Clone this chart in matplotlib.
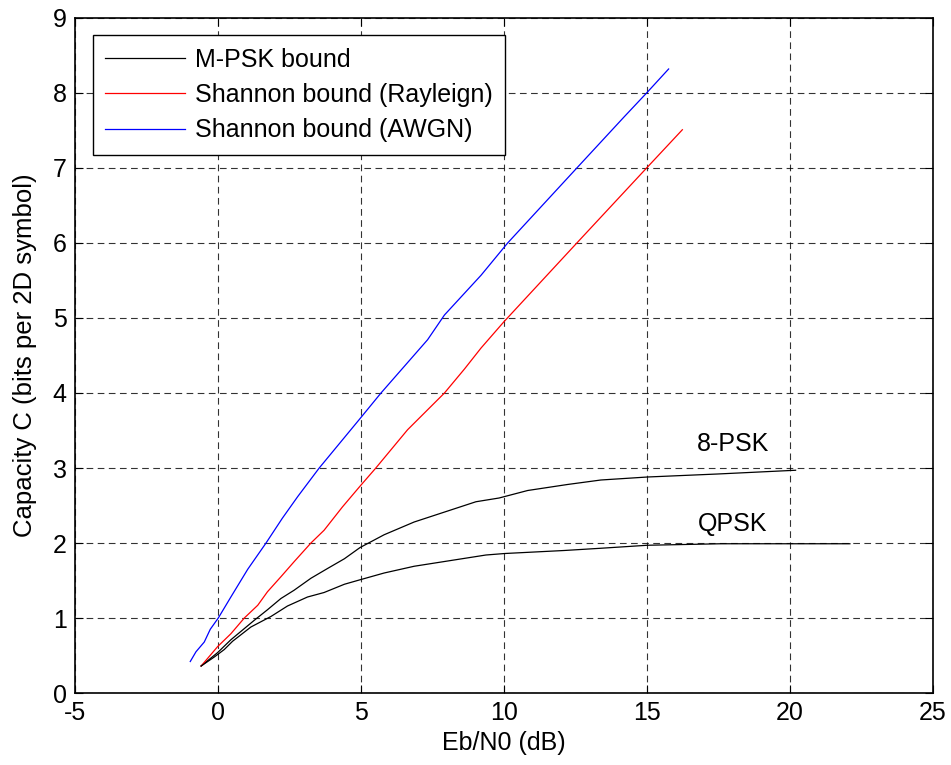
import matplotlib
matplotlib.use('Agg')
import matplotlib.pyplot as plt

plt.rcParams['font.family'] = ['Liberation Sans', 'DejaVu Sans']
plt.rcParams['font.size'] = 18
plt.rcParams['axes.unicode_minus'] = False

# Shannon bound (AWGN)
awgn_x = [-0.97, -0.77, -0.48, -0.27, 0.01, 0.45, 1.04, 1.68, 2.25, 2.79, 3.54,
          4.97, 5.70, 7.33, 7.92, 9.2, 10.13, 12.55, 14.2, 14.99, 15.76]
awgn_y = [0.42, 0.55, 0.68, 0.85, 1.0, 1.28, 1.65, 2.0, 2.33, 2.62, 3.0,
          3.66, 4.0, 4.71, 5.04, 5.57, 6.0, 7.0, 7.68, 8.0, 8.32]

# Shannon bound (Rayleigh)
ray_x = [-0.59, -0.01, 0.45, 0.92, 1.39, 1.73, 2.2, 2.66, 3.25, 3.71, 4.35,
         4.95, 5.52, 6.63, 7.92, 8.62, 9.2, 10.0, 12.55, 14.99, 16.24]
ray_y = [0.36, 0.62, 0.79, 1.0, 1.17, 1.35, 1.55, 1.75, 2.0, 2.17, 2.48,
         2.75, 3.0, 3.51, 4.0, 4.32, 4.6, 4.95, 6.0, 7.0, 7.51]

# 8-PSK
psk8_x = [-0.59, -0.01, 0.45, 1.27, 1.73, 2.2, 2.66, 3.25, 3.83, 4.42, 4.97,
          5.81, 6.86, 9.02, 9.83, 10.83, 12.22, 13.39, 15.02, 17.47, 20.2]
psk8_y = [0.36, 0.54, 0.71, 0.97, 1.11, 1.26, 1.37, 1.53, 1.66, 1.79, 1.94,
          2.11, 2.28, 2.55, 2.6, 2.70, 2.78, 2.84, 2.88, 2.92, 2.97]

# QPSK
qpsk_x = [-0.59, -0.13, 0.22, 0.51, 1.15, 1.85, 2.43, 3.13, 3.71, 4.42, 4.97,
          5.81, 6.86, 9.37, 10.03, 12.1, 13.39, 15.02, 17.59, 22.1]
qpsk_y = [0.36, 0.48, 0.58, 0.69, 0.88, 1.02, 1.16, 1.28, 1.34, 1.45, 1.51,
          1.6, 1.69, 1.84, 1.86, 1.9, 1.93, 1.97, 1.99, 1.99]

fig = plt.figure(figsize=(9.51, 7.65), dpi=100)
ax = fig.add_axes([0.0789, 0.0941, 0.902, 0.8824])

lw = 0.9
ax.plot(psk8_x, psk8_y, color='k', lw=lw, label='M-PSK bound')
ax.plot(ray_x, ray_y, color='r', lw=lw, label='Shannon bound (Rayleign)')
ax.plot(awgn_x, awgn_y, color='b', lw=lw, label='Shannon bound (AWGN)')
ax.plot(qpsk_x, qpsk_y, color='k', lw=lw)

ax.text(18.0, 3.32, '8-PSK', ha='center', va='center')
ax.text(18.0, 2.25, 'QPSK', ha='center', va='center')

ax.set_xlim(-5, 25)
ax.set_ylim(0, 9)
ax.set_xticks(range(-5, 26, 5))
ax.set_yticks(range(0, 10))
ax.tick_params(direction='in', top=True, right=True, length=6, width=0.8, pad=6)
ax.grid(True, color='k', linestyle=(0, (6, 4)), linewidth=0.8, alpha=0.8)
for s in ax.spines.values():
    s.set_linewidth(1.2)

ax.set_xlabel('Eb/N0 (dB)', labelpad=4)
ax.set_ylabel('Capacity C (bits per 2D symbol)', labelpad=11, fontsize=18.5)

leg = ax.legend(loc='upper left', fancybox=False, edgecolor='k', framealpha=1,
                borderaxespad=0.7, handlelength=3.2, labelspacing=0.45,
                borderpad=0.5, handletextpad=0.4)
leg.get_frame().set_linewidth(1.0)

fig.savefig('out.png', dpi=100)
